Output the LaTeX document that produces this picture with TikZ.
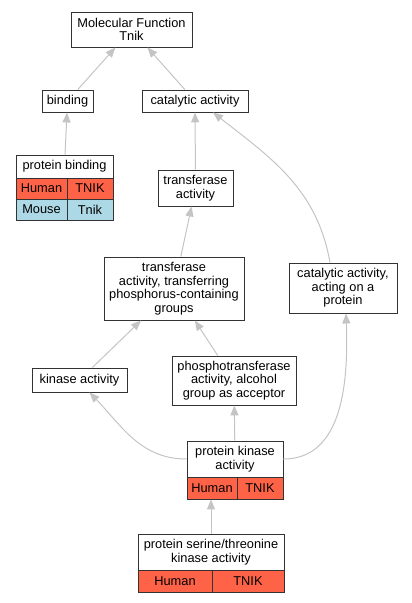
\documentclass[tikz,border=0pt]{standalone}
\usepackage{fontspec}
\setmainfont{Liberation Sans}
\usepackage{xcolor}
\usepackage{tikz}
\usetikzlibrary{positioning,calc,arrows.meta}
\definecolor{humancol}{HTML}{FF6347}
\definecolor{mousecol}{HTML}{ADD8E6}
\definecolor{edgecol}{HTML}{C4C4C4}
\tikzset{
  gofont/.style={font=\fontsize{12.8}{13.6}\selectfont},
  gobox/.style={draw=black!80, line width=0.9pt, fill=white, align=center, inner sep=0pt},
  gocellhuman/.style={gobox, fill=humancol},
  gocellmouse/.style={gobox, fill=mousecol},
  goarrow/.style={-{Triangle[length=10pt,width=8pt]}, draw=edgecol, line width=1pt},
}

\begin{document}
\begin{tikzpicture}[x=1pt,y=1pt,gofont]
	\useasboundingbox (0,0) rectangle (412,-603);

		% Top levels
			\node[gobox, minimum width=121, minimum height=35] (mf) at (131.5,-29.5) {Molecular Function\\Tnik};
			\node[gobox, minimum width=51, minimum height=22] (bind) at (67.5,-101) {binding};
			\node[gobox, minimum width=106, minimum height=22] (cat) at (195,-101) {catalytic activity};

		% protein binding with its table
			\node[gobox, minimum width=97, minimum height=23] (pbind) at (64.5,-166.5) {protein binding};
			\node[gocellhuman, minimum width=51, minimum height=21] (pbhum) at (41.5,-188.5) {Human};
			\node[gocellhuman, minimum width=46, minimum height=21] (pbhgene) at (90,-188.5) {TNIK};
			\node[gocellmouse, minimum width=51, minimum height=21] (pbmou) at (41.5,-209.5) {Mouse};
			\node[gocellmouse, minimum width=46, minimum height=21] (pbmgene) at (90,-209.5) {Tnik};

		% Middle levels
			\node[gobox, minimum width=75, minimum height=36] (trans) at (195.5,-188) {transferase\\activity};
			\node[gobox, minimum width=140, minimum height=63] (transp) at (174,-288.5)
			{transferase\\activity, transferring\\phosphorus-containing\\groups};
			\node[gobox, minimum width=108, minimum height=50] (catprot) at (343,-288)
			{catalytic activity,\\acting on a\\protein};
			\node[gobox, minimum width=95, minimum height=24] (kin) at (79.5,-380) {kinase activity};
			\node[gobox, minimum width=124, minimum height=49] (phos) at (234,-380.5)
			{phosphotransferase\\activity, alcohol\\group as acceptor};

		% protein kinase activity with its table
			\node[gobox, minimum width=96, minimum height=36] (pk) at (235,-459) {protein kinase\\activity};
			\node[gocellhuman, minimum width=50, minimum height=22] (pkhum) at (212,-488) {Human};
			\node[gocellhuman, minimum width=46, minimum height=22] (pkgene) at (260,-488) {TNIK};

		% protein serine/threonine kinase activity with its table
			\node[gobox, minimum width=146, minimum height=36] (ser) at (211,-552) {protein serine/threonine\\kinase activity};
			\node[gocellhuman, minimum width=74, minimum height=22] (serhum) at (175,-581) {Human};
			\node[gocellhuman, minimum width=72, minimum height=22] (sergene) at (248,-581) {TNIK};

		% is-a edges
			\draw[goarrow] (bind) -- (mf);
			\draw[goarrow] (cat) -- (mf);
			\draw[goarrow] (pbind) -- (bind);
			\draw[goarrow] (trans) -- (cat);
			\draw[goarrow] (transp) -- (trans);
			\draw[goarrow] ($(catprot.north)+(-13,0)$) to[out=100,in=-38] ($(cat.south)+(18,0)$);
			\draw[goarrow] (kin) -- (transp);
			\draw[goarrow] (phos) -- (transp);
			\draw[goarrow] (pk.west) to[out=180,in=-46] ($(kin.south)+(10,0)$);
			\draw[goarrow] (pk) -- (phos);
			\draw[goarrow] (pk.east) to[out=0,in=-88] ($(catprot.south)+(3,0)$);
			\draw[goarrow] (ser.north) -- (ser.north |- pkhum.south);
\end{tikzpicture}
\end{document}
